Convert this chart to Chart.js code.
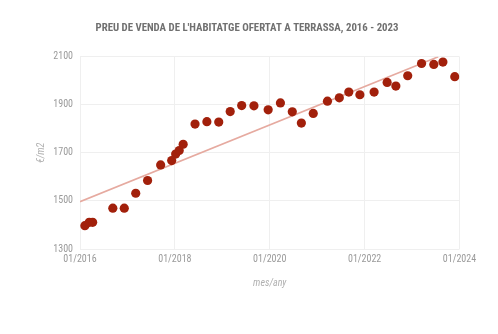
<!DOCTYPE html>
<html>
<head>
<meta charset="utf-8">
<script src="https://cdn.jsdelivr.net/npm/chart.js@4/dist/chart.umd.min.js"></script>
<style>
  html, body { margin: 0; padding: 0; background: #ffffff; }
  #wrap { width: 498px; height: 334px; }
</style>
</head>
<body>
<div id="wrap"><canvas id="c" width="498" height="334"></canvas></div>
<script>
// Asking price of housing in Terrassa (€/m2)
const dates = ['2016-02-08','2016-03-11','2016-04-07','2016-09-10','2016-12-07',
  '2017-03-04','2017-06-04','2017-09-13','2017-12-07','2018-01-07','2018-02-04',
  '2018-03-04','2018-06-04','2018-09-04','2018-12-04','2019-03-01','2019-05-28',
  '2019-09-01','2019-12-19','2020-03-22','2020-06-22','2020-09-01','2020-12-01',
  '2021-03-19','2021-06-19','2021-09-01','2021-11-25','2022-03-13','2022-06-22',
  '2022-08-28','2022-11-28','2023-03-13','2023-06-16','2023-08-25','2023-11-25'];
const prices = [1397, 1411, 1411, 1470, 1470, 1532, 1585, 1650, 1668, 1695, 1710,
  1736, 1820, 1830, 1828, 1872, 1897, 1896, 1879, 1908, 1871, 1824, 1864, 1915,
  1929, 1953, 1942, 1953, 1993, 1978, 2021, 2072, 2068, 2078, 2017];

// Linear trend line endpoints
const trendDates = ['2016-01-01', '2023-07-20'];
const trendValues = [1497, 2100];

const xTickYears = [2016, 2018, 2020, 2022, 2024];
const yTicks = [1300, 1500, 1700, 1900, 2100];

const START_YEAR = 2016;
// month offset from January of the start year
function monthIndex(s) {
  const [y, m, d] = s.split('-').map(Number);
  return (y - START_YEAR) * 12 + (m - 1) + (d - 1) / 30;
}

const points = dates.map((d, i) => ({ x: monthIndex(d), y: prices[i] }));
const trend = trendDates.map((d, i) => ({ x: monthIndex(d), y: trendValues[i] }));

const narrow = "'Liberation Sans Narrow', 'Arial Narrow', 'Roboto Condensed', 'DejaVu Sans Condensed', 'Liberation Sans', sans-serif";

new Chart(document.getElementById('c'), {
  data: {
    datasets: [
      {
        type: 'scatter',
        data: points,
        backgroundColor: '#a2200b',
        borderWidth: 0,
        pointRadius: 4.6,
        pointHoverRadius: 4.6,
        order: 1
      },
      {
        type: 'line',
        data: trend,
        borderColor: '#e6aaa0',
        borderWidth: 1.6,
        pointRadius: 0,
        fill: false,
        order: 2
      }
    ]
  },
  options: {
    responsive: false,
    animation: false,
    layout: { padding: { left: 34.5, right: 38.5, top: 0, bottom: 40 } },
    plugins: {
      legend: { display: false },
      tooltip: { enabled: false },
      title: {
        display: true,
        text: "PREU DE VENDA DE L'HABITATGE OFERTAT A TERRASSA, 2016 - 2023",
        color: '#707070',
        font: { family: narrow, size: 10.8, weight: 'bold' },
        padding: { top: 22, bottom: 21.8 }
      }
    },
    scales: {
      x: {
        type: 'linear',
        min: 0,
        max: 96,
        afterBuildTicks: (scale) => {
          scale.ticks = xTickYears.map(y => ({ value: (y - START_YEAR) * 12 }));
        },
        afterFit: (scale) => { scale.height = 45; },
        ticks: {
          color: '#9a9a9a',
          font: { family: narrow, size: 10 },
          padding: 4,
          maxRotation: 0,
          callback: (v) => '01/' + (START_YEAR + v / 12)
        },
        grid: { color: '#efefef', drawTicks: false },
        border: { display: false },
        title: {
          display: true,
          text: 'mes/any',
          color: '#b0b0b0',
          font: { family: narrow, size: 10, style: 'italic' },
          padding: { top: 0, bottom: 5 }
        }
      },
      y: {
        type: 'linear',
        min: 1300,
        max: 2100,
        afterBuildTicks: (scale) => {
          scale.ticks = yTicks.map(v => ({ value: v }));
        },
        afterFit: (scale) => { scale.width = 45.5; },
        ticks: {
          color: '#9a9a9a',
          font: { family: narrow, size: 10 },
          padding: 7,
          callback: (v) => String(v)
        },
        grid: { color: '#efefef', drawTicks: false },
        border: { display: false },
        title: {
          display: true,
          text: '€/m2',
          color: '#b0b0b0',
          font: { family: narrow, size: 10, style: 'italic' },
          padding: { top: 1.2, bottom: 0 }
        }
      }
    }
  }
});
</script>
</body>
</html>
